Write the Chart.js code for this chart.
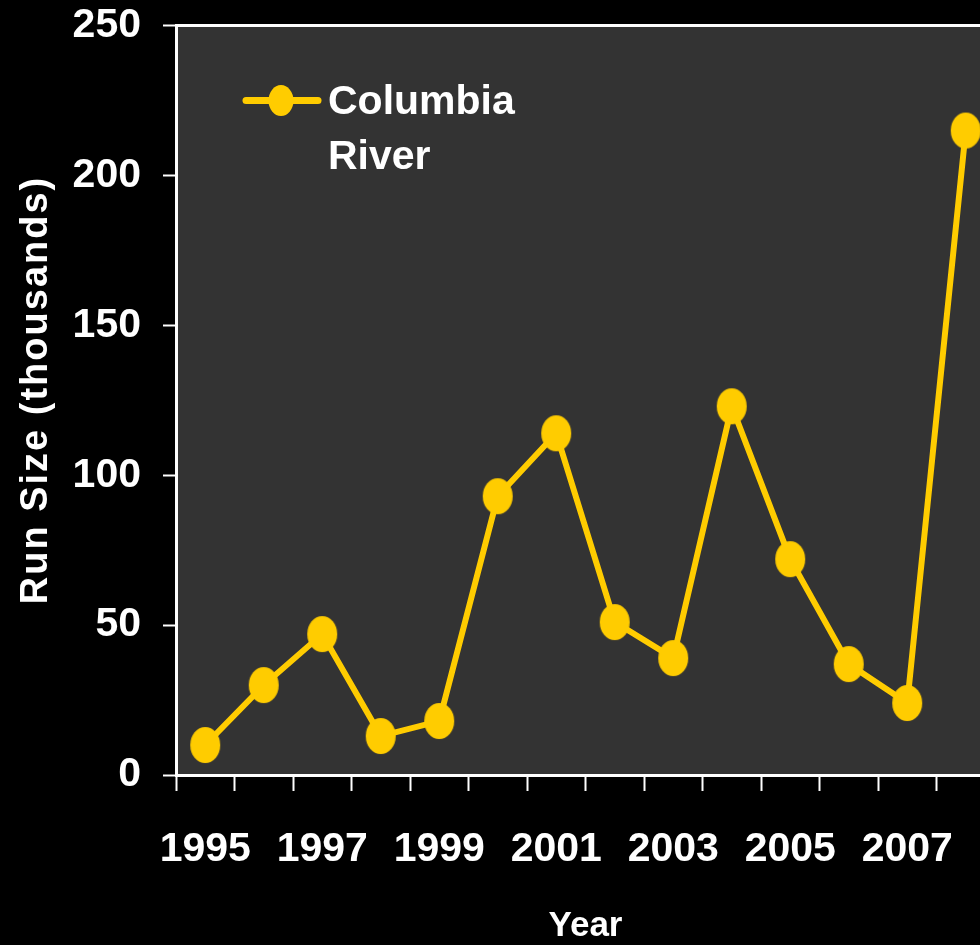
<!DOCTYPE html>
<html>
<head>
<meta charset="utf-8">
<script src="https://cdn.jsdelivr.net/npm/chart.js@4/dist/chart.umd.min.js"></script>
<style>
  html, body { margin: 0; padding: 0; background: #000; overflow: hidden; }
  #wrap { width: 980px; height: 945px; overflow: hidden; }
  #box { width: 1011px; height: 966px; margin-top: -21px; }
</style>
</head>
<body>
<div id="wrap"><div id="box"><canvas id="grafico"></canvas></div></div>
<script>
// dados
const anos = ['1995', '1996', '1997', '1998', '1999', '2000', '2001', '2002', '2003', '2004', '2005', '2006', '2007', '2008'];
const runSize = [10, 30, 47, 13, 18, 93, 114, 51, 39, 123, 72, 37, 24, 215];
const yTicks = [0, 50, 100, 150, 200, 250];
const nomeSerie = ['Columbia', 'River'];
const tituloY = 'Run Size (thousands)';

const amarelo = '#ffcc00';
const fonte = '"Liberation Sans", Arial, sans-serif';
const DESLOC = 21; // canvas subiu 21px

// marcador eliptico (os pontos do original sao mais altos que largos)
const marcador = document.createElement('canvas');
marcador.width = 32;
marcador.height = 38;
const mctx = marcador.getContext('2d');
mctx.fillStyle = amarelo;
mctx.beginPath();
mctx.ellipse(16, 19, 15, 18, 0, 0, Math.PI * 2);
mctx.fill();

// fundo cinza so na area do grafico
const fundoArea = {
  id: 'fundoArea',
  beforeDraw(chart) {
    const { ctx, chartArea: a } = chart;
    ctx.save();
    ctx.fillStyle = '#333333';
    ctx.fillRect(a.left, a.top, a.right - a.left, a.bottom - a.top);
    ctx.restore();
  }
};

// legenda em duas linhas dentro da area + titulo do eixo y com espacamento
const legenda = {
  id: 'legenda',
  afterDraw(chart) {
    const { ctx, chartArea: a } = chart;
    const x = a.left + 70, y = a.top + 75;
    ctx.save();
    ctx.strokeStyle = amarelo;
    ctx.lineWidth = 7;
    ctx.lineCap = 'round';
    ctx.beginPath();
    ctx.moveTo(x, y);
    ctx.lineTo(x + 72, y);
    ctx.stroke();
    ctx.fillStyle = amarelo;
    ctx.beginPath();
    ctx.ellipse(x + 35, y, 12.5, 15.5, 0, 0, Math.PI * 2);
    ctx.fill();
    ctx.fillStyle = '#ffffff';
    ctx.font = 'bold 41px ' + fonte;
    ctx.textBaseline = 'middle';
    ctx.fillText(nomeSerie[0], x + 82, y + 2);
    ctx.fillText(nomeSerie[1], x + 82, y + 57);

    // titulo y
    ctx.translate(37, 390 + DESLOC);
    ctx.rotate(-Math.PI / 2);
    ctx.font = 'bold 38px ' + fonte;
    ctx.letterSpacing = '2px';
    ctx.textAlign = 'center';
    ctx.fillText(tituloY, 0, 0);
    ctx.restore();
  }
};

const ctx = document.getElementById('grafico').getContext('2d');
new Chart(ctx, {
  type: 'line',
  data: {
    labels: anos,
    datasets: [{
      label: nomeSerie.join(' '),
      data: runSize,
      borderColor: amarelo,
      backgroundColor: amarelo,
      borderWidth: 6,
      pointStyle: marcador,
      pointRadius: 16,
      pointHoverRadius: 16,
      pointBorderWidth: 0,
      tension: 0
    }]
  },
  options: {
    responsive: true,
    maintainAspectRatio: false,
    animation: false,
    layout: { padding: { top: 2, right: 0, left: 0, bottom: 0 } },
    plugins: { legend: { display: false }, tooltip: { enabled: false } },
    scales: {
      x: {
        type: 'category',
        offset: true,
        afterFit(scale) { scale.height = 170; },
        grid: {
          offset: true,
          drawOnChartArea: false,
          tickColor: '#ffffff',
          tickWidth: 2,
          tickLength: 16
        },
        border: { color: '#ffffff', width: 3 },
        ticks: {
          autoSkip: false,
          maxRotation: 0,
          color: '#ffffff',
          padding: 34,
          font: { family: fonte, size: 41, weight: 'bold' },
          callback: (v, i) => (i % 2 === 0 ? anos[i] : '')
        },
        title: {
          display: true,
          text: 'Year',
          color: '#ffffff',
          font: { family: fonte, size: 35, weight: 'bold' },
          padding: { top: 0, bottom: -2 }
        }
      },
      y: {
        min: yTicks[0],
        max: yTicks[yTicks.length - 1],
        afterFit(scale) { scale.width = 176; },
        afterBuildTicks(scale) { scale.ticks = yTicks.map(v => ({ value: v })); },
        grid: {
          color: c => (c.tick && c.tick.value === 250 ? '#ffffff' : 'transparent'),
          lineWidth: 3,
          tickColor: '#ffffff',
          tickWidth: 2,
          tickLength: 13
        },
        border: { color: '#ffffff', width: 3 },
        ticks: {
          color: '#ffffff',
          padding: 22,
          font: { family: fonte, size: 41, weight: 'bold' }
        }
      }
    }
  },
  plugins: [fundoArea, legenda]
});
</script>
</body>
</html>
